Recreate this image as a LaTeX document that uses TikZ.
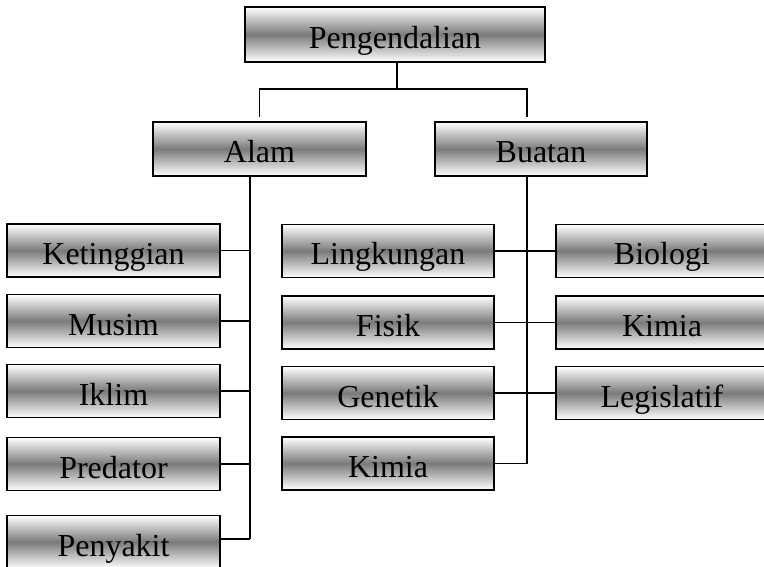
\documentclass[tikz,border=0pt]{standalone}
\usepackage{fontspec}
\setmainfont{Liberation Serif}
\begin{document}
\begin{tikzpicture}[x=1pt,y=-1pt,
  box/.style={draw=black, line width=1.6pt, top color=white, bottom color=white, middle color=black!52,
    minimum width=213pt, minimum height=53pt, inner sep=0pt, text height=30pt, text depth=2pt,
    font=\fontsize{32}{38}\selectfont},
  link/.style={draw=black, line width=1.5pt}]
\useasboundingbox (0,0) rectangle (764,567);
\clip (0,0) rectangle (764,567);

% top level
\node[box, minimum width=300pt, minimum height=55pt] (peng) at (395,34.5) {Pengendalian};
\node[box, minimum height=54pt] (alam) at (259.5,149) {Alam};
\node[box, minimum width=212pt, minimum height=54pt] (buatan) at (541,149) {Buatan};

% Alam branch
\node[box] (ket) at (113.5,250.5) {Ketinggian};
\node[box] (mus) at (113.5,321) {Musim};
\node[box] (ikl) at (113.5,391) {Iklim};
\node[box] (pre) at (113.5,464) {Predator};
\node[box] (pen) at (113.5,542) {Penyakit};

% Buatan branch
\node[box, minimum width=212pt] (lin) at (388,251) {Lingkungan};
\node[box, minimum width=212pt] (fis) at (388,322.5) {Fisik};
\node[box, minimum width=212pt] (gen) at (388,393) {Genetik};
\node[box, minimum width=212pt] (kim1) at (388,463.5) {Kimia};
\node[box, minimum width=212pt] (bio) at (662,251) {Biologi};
\node[box, minimum width=212pt] (kim2) at (662,322.5) {Kimia};
\node[box, minimum width=212pt] (leg) at (662,393) {Legislatif};

% junction coordinates
\coordinate (top) at (397,89);
\coordinate (dropA) at (259.5,117);
\coordinate (dropB) at (527,117);
\coordinate (trunkA) at (250,176);
\coordinate (trunkB) at (527,176);
\coordinate (endA) at (250,539);
\coordinate (endB) at (527,463.5);

% connectors
\draw[link] (peng.south -| top) -- (top);
\draw[link] (dropA) -- (dropA |- top) -- (dropB |- top) -- (dropB);
\draw[link] (trunkA) -- (endA);
\draw[link] (trunkB) -- (endB);
\draw[link] (ket.east) -- (ket.east -| trunkA);
\draw[link] (mus.east) -- (mus.east -| trunkA);
\draw[link] (ikl.east) -- (ikl.east -| trunkA);
\draw[link] (pre.east) -- (pre.east -| trunkA);
\draw[link] (endA -| pen.east) -- (endA);
\draw[link] (lin.east) -- (bio.west);
\draw[link] (fis.east) -- (kim2.west);
\draw[link] (gen.east) -- (leg.west);
\draw[link] (kim1.east) -- (endB);
\end{tikzpicture}
\end{document}
